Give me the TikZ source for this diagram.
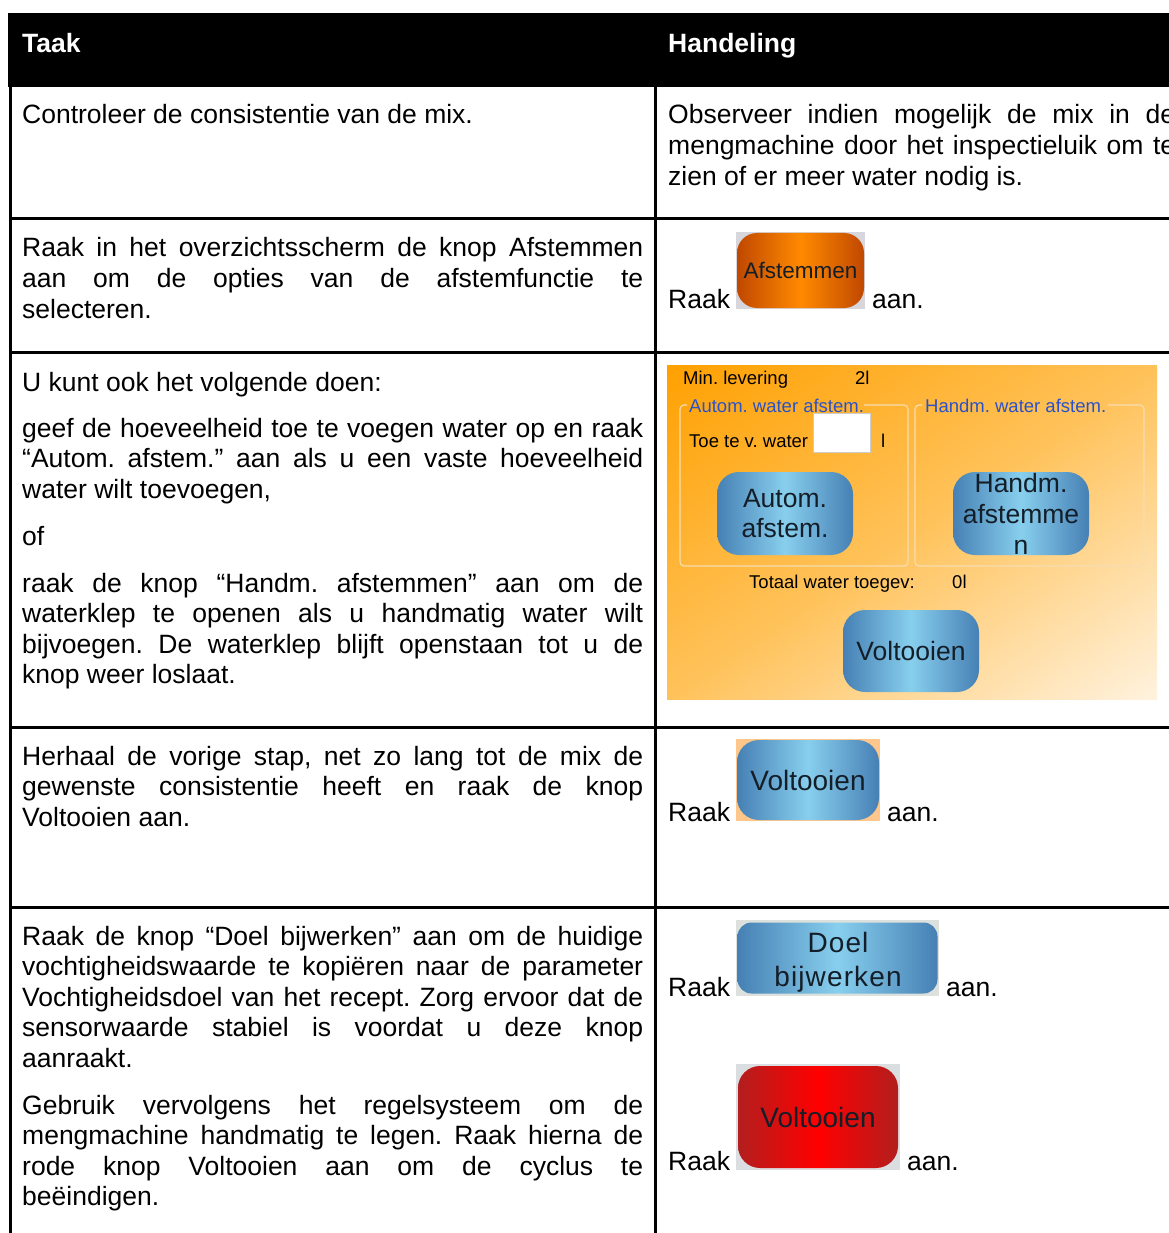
\documentclass[tikz,border=0pt]{standalone}
\usepackage{fontspec}
\setmainfont{Liberation Sans}
\usetikzlibrary{positioning}

\definecolor{bluedge}{HTML}{4680B4}
\definecolor{blumid}{HTML}{88CFEE}
\definecolor{orgedge}{HTML}{C04800}
\definecolor{orgmid}{HTML}{FF8A00}
\definecolor{rededge}{HTML}{B21E1E}
\definecolor{redmid}{HTML}{FF0000}
\definecolor{scrtop}{HTML}{FFA000}
\definecolor{scrmid}{HTML}{FFC25A}
\definecolor{scrbot}{HTML}{FFF3E0}
\definecolor{grpline}{HTML}{F6DDB0}
\definecolor{grptext}{HTML}{2A52C8}
\definecolor{btntext}{HTML}{141E28}

\newcommand\bodyfont{\fontsize{26.5}{30.6}\selectfont\frenchspacing\hyphenpenalty=10000\exhyphenpenalty=10000\tolerance=9999}
\newcommand\scrfont{\fontsize{18.5}{22}\selectfont\frenchspacing}

\begin{document}
\begin{tikzpicture}[x=1pt, y=-1pt,
  grid/.style={line width=3pt},
  txt/.style={anchor=base west, inner sep=0pt, text width=621pt, align=justify, font=\bodyfont},
  txtr/.style={txt, text width=507pt},
  word/.style={anchor=base west, inner sep=0pt, font=\bodyfont},
  head/.style={anchor=base west, inner sep=0pt, text=white, font=\bodyfont\bfseries},
  pic/.style={anchor=south west, inner sep=0pt, outer sep=0pt},
  btn/.style={inner sep=0pt, text=btntext, align=center},
  bluebtn/.style={btn, left color=bluedge, right color=bluedge, middle color=blumid},
  orgbtn/.style={btn, left color=orgedge, right color=orgedge, middle color=orgmid},
  redbtn/.style={btn, left color=rededge, right color=rededge, middle color=redmid},
  scr/.style={anchor=base west, inner sep=0pt, font=\scrfont},
  grp/.style={draw=grpline, line width=1.2pt, rounded corners=4pt}]

\useasboundingbox (0,0) rectangle (1168,1233);

% header
\fill (8,13) rectangle (1190,87);
\node[head] (taak) at (22,52.5) {Taak};
\node[head] (hand) at (668,52.5) {Handeling};

% grid
\draw[grid] (10,87) -- (10,1240);
\draw[grid] (655,87) -- (655,1240);
\foreach \y in {219,352,727,907}
  \draw[grid] (10,\y) -- (1190,\y);

% row 1
\node[txt] (t1) at (22,124) {Controleer de consistentie van de mix.};
\node[txtr] (h1) at (668,124) {Observeer indien mogelijk de mix in de\linebreak mengmachine door het inspectieluik om te\linebreak zien of er meer water nodig is.};

% row 2
\node[txt] (t2) at (22,257) {Raak in het overzichtsscherm de knop Afstemmen\linebreak aan om de opties van de afstemfunctie te\linebreak selecteren.};
\node[word] (raak2) at (668,308) {Raak};
\node[pic, fill=blue!8!gray!30, minimum width=129pt, minimum height=77pt] (img2) at (736,309) {};
\node[orgbtn, rounded corners=20pt, minimum width=127pt, minimum height=75pt, font=\fontsize{22.5}{26}\selectfont] (b2) at (img2.center) {Afstemmen};
\node[word] (aan2) at (872,308) {aan.};

% row 3
\node[txt] (t3a) at (22,391) {U kunt ook het volgende doen:};
\node[txt] (t3b) at (22,437) {geef de hoeveelheid toe te voegen water op en raak\linebreak “Autom. afstem.” aan als u een vaste hoeveelheid\linebreak water wilt toevoegen,};
\node[txt] (t3c) at (22,545) {of};
\node[txt] (t3d) at (22,592) {raak de knop “Handm. afstemmen” aan om de\linebreak waterklep te openen als u handmatig water wilt\linebreak bijvoegen. De waterklep blijft openstaan tot u de\linebreak knop weer loslaat.};

\begin{scope}
\clip (667,365) rectangle (1157,699);
\shade[top color=scrtop, bottom color=scrbot, middle color=scrmid, shading angle=34] (632,252) rectangle (1192,812);
\end{scope}
\node[scr] (minlev) at (683,384.5) {Min. levering};
\node[scr] (minval) at (855,384.5) {2l};
\draw[grp] (687,405) -- (680,405) -- (680,566) -- (908,566) -- (908,405) -- (864,405);
\draw[grp] (922,405) -- (915,405) -- (915,566) -- (1144,566) -- (1144,405) -- (1108,405);
\node[scr, text=grptext] (autgrp) at (689,412) {Autom. water afstem.};
\node[scr, text=grptext] (hndgrp) at (925,412) {Handm. water afstem.};
\node[scr] (toe) at (689,447) {Toe te v. water};
\node[draw=gray!40, fill=white, minimum width=57pt, minimum height=39pt, inner sep=0pt] (invul) at (841.5,432.5) {};
\node[scr] (liter) at (881,447) {l};
\node[bluebtn, rounded corners=22pt, minimum width=136pt, minimum height=83pt] (autbtn) at (785,513.5) {};
\node[btn, font=\fontsize{26.5}{30}\selectfont] (auttxt) at (autbtn.center) {Autom.\\afstem.};
\node[bluebtn, rounded corners=22pt, minimum width=136pt, minimum height=83pt] (hndbtn) at (1021,513.5) {};
\node[btn, font=\fontsize{26.5}{31}\selectfont] (hndtxt) at (1021,514) {Handm.\\afstemme\\n};
\node[scr] (totaal) at (749,588) {Totaal water toegev:};
\node[scr] (totval) at (952,588) {0l};
\node[bluebtn, rounded corners=22pt, minimum width=136pt, minimum height=82pt, font=\fontsize{26.5}{30}\selectfont] (volbtn) at (911,651) {Voltooien};

% row 4
\node[txt] (t4) at (22,765) {Herhaal de vorige stap, net zo lang tot de mix de\linebreak gewenste consistentie heeft en raak de knop\linebreak Voltooien aan.};
\node[word] (raak4) at (668,821) {Raak};
\node[pic, fill=orange!45!white, minimum width=144pt, minimum height=82pt] (img4) at (736,821) {};
\node[bluebtn, rounded corners=22pt, minimum width=142pt, minimum height=80pt, font=\fontsize{28}{32}\selectfont] (b4) at (img4.center) {Voltooien};
\node[word] (aan4) at (887,821) {aan.};

% row 5
\node[txt] (t5a) at (22,945) {Raak de knop “Doel bijwerken” aan om de huidige\linebreak vochtigheidswaarde te kopiëren naar de parameter\linebreak Vochtigheidsdoel van het recept. Zorg ervoor dat de\linebreak sensorwaarde stabiel is voordat u deze knop\linebreak aanraakt.};
\node[txt] (t5b) at (22,1114) {Gebruik vervolgens het regelsysteem om de\linebreak mengmachine handmatig te legen. Raak hierna de\linebreak rode knop Voltooien aan om de cyclus te\linebreak beëindigen.};
\node[word] (raak5) at (668,996) {Raak};
\node[pic, fill=green!6!gray!25, minimum width=203pt, minimum height=76pt] (img5) at (736,996) {};
\node[bluebtn, rounded corners=14pt, minimum width=200pt, minimum height=71pt] (b5) at (img5.center) {};
\node[btn, font=\fontsize{28}{34}\selectfont\addfontfeatures{LetterSpace=4}] (b5txt) at (838,962) {Doel\\bijwerken};
\node[word] (aan5) at (946,996) {aan.};
\node[word] (raak6) at (668,1170) {Raak};
\node[pic, fill=cyan!8!gray!30, minimum width=164pt, minimum height=106pt] (img6) at (736,1170) {};
\node[redbtn, rounded corners=22pt, minimum width=160pt, minimum height=102pt, font=\fontsize{28}{32}\selectfont] (b6) at (img6.center) {Voltooien};
\node[word] (aan6) at (907,1170) {aan.};
\end{tikzpicture}
\end{document}
